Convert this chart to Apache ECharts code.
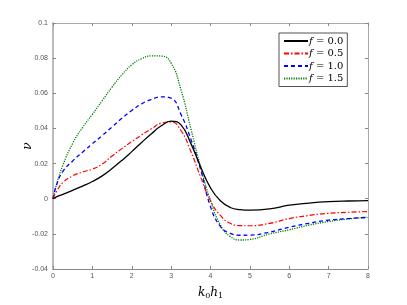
<!DOCTYPE html>
<html><head><meta charset="utf-8">
<script src="https://cdn.jsdelivr.net/npm/echarts@6/dist/echarts.min.js"></script>
<style>html,body{margin:0;padding:0;background:#fff}#c{width:407px;height:305px}</style>
</head><body><div id="c"></div>
<script>
const xs = [0,0.1,0.25,0.5,0.75,1,1.25,1.5,1.75,2,2.25,2.5,2.75,3,3.25,3.5,3.75,4,4.25,4.5,4.75,5,5.5,6,6.5,7,7.5,8];
const f00 = [0,0.0012,0.0025,0.0048,0.0072,0.0098,0.013,0.0172,0.0218,0.0268,0.032,0.037,0.0415,0.0441,0.042,0.0315,0.018,0.0062,-0.0012,-0.0050,-0.0062,-0.0065,-0.0058,-0.0037,-0.0025,-0.0017,-0.0013,-0.0011];
const f05 = [0,0.0045,0.0092,0.013,0.0152,0.0168,0.0198,0.0243,0.0285,0.0325,0.0363,0.0398,0.043,0.0437,0.0388,0.027,0.0123,-0.0012,-0.0095,-0.014,-0.0153,-0.0154,-0.014,-0.0113,-0.0095,-0.0083,-0.0077,-0.0073];
const f10 = [0,0.0085,0.0155,0.0215,0.0265,0.0313,0.036,0.0408,0.0458,0.0502,0.054,0.0565,0.058,0.0572,0.048,0.034,0.0165,-0.0045,-0.0157,-0.0197,-0.0208,-0.0207,-0.019,-0.0162,-0.014,-0.0122,-0.0113,-0.0106];
const f15 = [0,0.009,0.019,0.0315,0.0405,0.048,0.0558,0.0635,0.0705,0.0762,0.0797,0.0813,0.0812,0.0772,0.062,0.04,0.018,-0.001,-0.015,-0.0215,-0.0235,-0.0232,-0.02,-0.0177,-0.015,-0.013,-0.0115,-0.0106];
const seriesNames = ['f = 0.0','f = 0.5','f = 1.0','f = 1.5'];
const xTicks = ['0','1','2','3','4','5','6','7','8'];
const yTicks = ['-0.04','-0.02','0','0.02','0.04','0.06','0.08','0.1'];

const pairs = ys => xs.map((x,i)=>[x, ys[i]]);
const chart = echarts.init(document.getElementById('c'), null, {renderer:'canvas'});
const serif = '"DejaVu Serif", "Liberation Serif", serif';
const tickColor = '#555';
const styles = [
  {color:'#000000', type:'solid', width:1.3},
  {color:'#ff0000', type:[5,2,1.5,2], width:1.2},
  {color:'#0000ff', type:[4,3], width:1.3},
  {color:'#008000', type:[1.2,1.2], width:1.3}
];
const data = [f00,f05,f10,f15];
chart.setOption({
  animation:false,
  backgroundColor:'#fff',
  grid: {left:53, top:23, right:39, bottom:34, containLabel:false},
  xAxis:[
    {type:'value', min:0, max:8, interval:1, position:'bottom', splitLine:{show:false},
      axisLine:{show:true, onZero:false, lineStyle:{color:'#888', width:1}},
      axisTick:{inside:true, length:3, lineStyle:{color:'#888'}},
      axisLabel:{fontSize:7, color:tickColor, margin:4, fontFamily:'Liberation Sans, Arial, sans-serif',
        formatter: v => xTicks[Math.round(v)]},
      name:'{i|k}{s|0}{i|h}{s|1}', nameLocation:'middle', nameGap:17,
      nameTextStyle:{rich:{
        i:{fontFamily:serif, fontStyle:'italic', fontSize:12, color:'#000'},
        s:{fontFamily:serif, fontSize:8, color:'#000', verticalAlign:'bottom', padding:[6,0,0,0]}
      }}
    },
    {type:'value', min:0, max:8, interval:1, position:'top', splitLine:{show:false},
      axisLine:{show:true, onZero:false, lineStyle:{color:'#aaa', width:1}},
      axisTick:{inside:true, length:3, lineStyle:{color:'#888'}},
      axisLabel:{show:false}
    }
  ],
  yAxis:[
    {type:'value', min:-0.04, max:0.1, interval:0.02, position:'left',
      splitLine:{show:false},
      axisLine:{show:true, onZero:false, lineStyle:{color:'#bbb', width:2}},
      axisTick:{inside:true, length:3, lineStyle:{color:'#888'}},
      axisLabel:{fontSize:7, color:tickColor, margin:5, fontFamily:'Liberation Sans, Arial, sans-serif',
        formatter: v => yTicks[Math.round((v+0.04)/0.02)]},
      name:'ν', nameLocation:'middle', nameGap:19, nameRotate:90, nameMoveOverlap:false,
      nameTextStyle:{fontFamily:serif, fontStyle:'italic', fontSize:12, color:'#000'}
    },
    {type:'value', min:-0.04, max:0.1, interval:0.02, position:'right',
      splitLine:{show:false},
      axisLine:{show:true, onZero:false, lineStyle:{color:'#aaa', width:1}},
      axisTick:{inside:true, length:3, lineStyle:{color:'#888'}},
      axisLabel:{show:false}
    }
  ],
  legend:{
    orient:'vertical', left:279, top:33,
    backgroundColor:'#fff', borderColor:'#555', borderWidth:1, borderRadius:0,
    padding:[3,4,3,4], itemGap:2.5, itemWidth:24, itemHeight:10,
    itemStyle:{opacity:0},
    textStyle:{fontFamily:serif, fontSize:10, color:'#000', padding:[0,0,0,-4],
      rich:{i:{fontFamily:serif, fontStyle:'italic', fontSize:10, color:'#000'},
            n:{fontFamily:serif, fontSize:10, color:'#000'}}},
    formatter: name => '{i|f}{n|' + name.slice(1) + '}',
    data: seriesNames
  },
  series: seriesNames.map((n,i)=>({
    name:n, type:'line', data:pairs(data[i]), showSymbol:false, symbol:'none',
    smooth:0.5, lineStyle:styles[i], itemStyle:{color:styles[i].color},
    xAxisIndex:0, yAxisIndex:0, z: 10-i
  }))
});
</script></body></html>
